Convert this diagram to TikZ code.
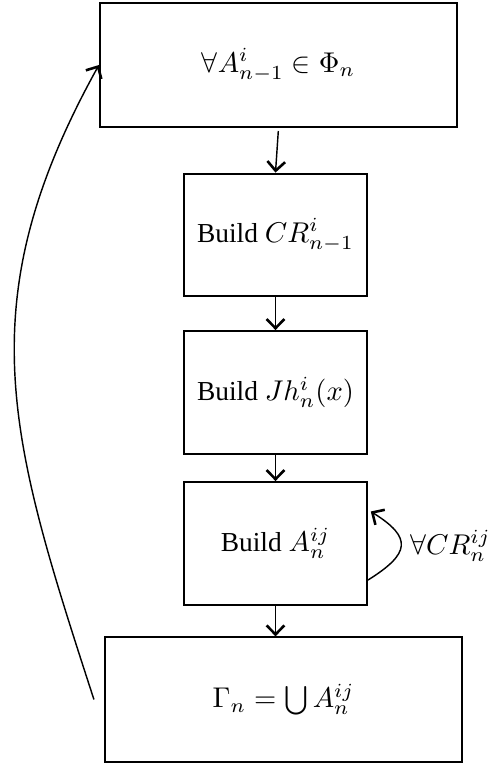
\documentclass[tikz,border=0pt]{standalone}
\usepackage[no-math]{fontspec}
\setmainfont{Liberation Serif}
\usetikzlibrary{arrows.meta}

\begin{document}
\begin{tikzpicture}[x=0.35pt, y=0.35pt, font=\fontsize{9.6}{11.5}\selectfont, wnode/.style={draw, rectangle, line width=0.7pt, minimum width=125pt, minimum height=43.5pt}, bnode/.style={draw, rectangle, line width=0.7pt, minimum width=64pt, minimum height=43pt}, >={Straight Barb[length=3.2pt,width=6.2pt,line width=0.9pt]}]
    \useasboundingbox (0,0) rectangle (489,763);
    \node[wnode] (phi) at (278.5, 698) {$\forall A^i_{n-1} \in \Phi_n$};
    \node[bnode] (cr) at (275.5, 528) {Build $CR^i_{n-1}$};
    \node[bnode] (jh) at (275.5, 370.5) {Build $Jh^i_n(x)$};
    \node[bnode] (a) at (275.5, 219.5) {Build $A^{ij}_n$};
    \node[wnode] (gam) at (283.5, 63.5) {$\Gamma_n = \bigcup A^{ij}_n$};

    \draw[->, line width=0.5pt, shorten <=1pt] (phi.south) -- (cr.north) ;
    \draw[->, line width=0.5pt] (cr) -- (jh) ;
    \draw[->, line width=0.5pt] (jh) -- (a) ;
    \draw[->, line width=0.5pt] (a.south) -- (a.south |- gam.north) ;

    \draw[->, line width=0.5pt] ([yshift=-12.8pt]a.east) to[out=32,in=-32,looseness=1.85] node[right, inner sep=0pt, xshift=3pt] {$\forall CR^{ij}_n$} ([xshift=1pt,yshift=11.2pt]a.east) ;
    \draw[->, line width=0.5pt] ([xshift=-3.5pt]gam.west) to[out=108,in=-119,looseness=1.1] (phi.west) ;
\end{tikzpicture}
\end{document}
